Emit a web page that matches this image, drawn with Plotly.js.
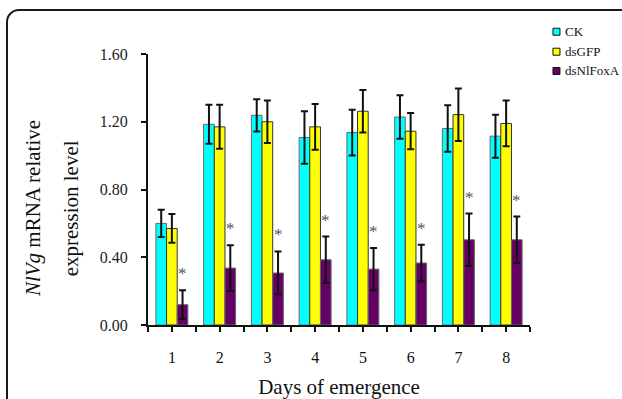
<!DOCTYPE html>
<html>
<head>
<meta charset="utf-8">
<script src="https://cdn.plot.ly/plotly-3.0.1.min.js"></script>
<style>
html,body{margin:0;padding:0;width:622px;height:399px;overflow:hidden;background:#fff;}
#frame{position:absolute;left:6px;top:9px;width:700px;height:500px;border:2px solid #1a1a1a;border-radius:13px;box-sizing:border-box;}
#chart{position:absolute;left:0;top:0;width:622px;height:399px;}
</style>
</head>
<body>
<div id="frame"></div>
<div id="chart"></div>
<script>
// ---- data ----
const days = [1, 2, 3, 4, 5, 6, 7, 8];
const dayLabels = ['1', '2', '3', '4', '5', '6', '7', '8'];
const seriesNames = ['CK', 'dsGFP', 'dsNlFoxA'];
const ckValues = [0.60, 1.185, 1.238, 1.107, 1.136, 1.228, 1.16, 1.115];
const ckErrors = [0.08, 0.115, 0.095, 0.155, 0.135, 0.128, 0.137, 0.127];
const gfpValues = [0.57, 1.17, 1.20, 1.17, 1.262, 1.144, 1.242, 1.19];
const gfpErrors = [0.085, 0.13, 0.125, 0.135, 0.125, 0.107, 0.155, 0.135];
const foxValues = [0.12, 0.336, 0.307, 0.385, 0.33, 0.366, 0.503, 0.503];
const foxErrors = [0.085, 0.135, 0.127, 0.137, 0.125, 0.108, 0.155, 0.137];
const significance = ['*', '*', '*', '*', '*', '*', '*', '*'];
const yTicks = [0, 0.4, 0.8, 1.2, 1.6];

// ---- layout constants ----
const W = 622, H = 399;
const M = {l: 147.5, r: 92, t: 54, b: 73.5};
const PW = W - M.l - M.r, PH = H - M.t - M.b;
const px = x => (x - M.l) / PW;
const py = y => (H - M.b - y) / PH;
const BARGAP = 0.33;
const FONT = 'Liberation Serif, Times New Roman, serif';
const colors = ['#00FFFF', '#FFFF00', '#660066'];
const outlines = ['#6a6a6a', '#333333', '#6a6a6a'];

const vals = [ckValues, gfpValues, foxValues];
const errs = [ckErrors, gfpErrors, foxErrors];

const traces = vals.map((v, i) => ({
  type: 'bar',
  name: seriesNames[i],
  x: days,
  y: v,
  marker: {color: colors[i], line: {color: outlines[i], width: 1}},
  error_y: {type: 'data', array: errs[i], visible: true, color: '#111', thickness: 2, width: 3.5},
  showlegend: false,
  hoverinfo: 'skip'
}));

// x ticks at centers and boundaries
const tickVals = [], tickText = [];
for (let i = 0; i < days.length; i++) {
  tickVals.push(days[i] - 0.5); tickText.push('');
  tickVals.push(days[i]); tickText.push(dayLabels[i]);
}
tickVals.push(days[days.length - 1] + 0.5); tickText.push('');

const barOffset = (1 - BARGAP) / 3;
const annotations = [];
days.forEach((d, i) => {
  annotations.push({
    x: d + barOffset, y: foxValues[i] + foxErrors[i], xref: 'x', yref: 'y',
    text: significance[i], showarrow: false, xanchor: 'center', yanchor: 'bottom',
    yshift: 5, font: {family: FONT, size: 17, color: '#555'}
  });
});

// y-axis title (two lines)
annotations.push({
  xref: 'paper', yref: 'paper', x: px(31.7), y: py(209), textangle: -90,
  text: '<i>NlVg</i> mRNA relative', showarrow: false, xanchor: 'center', yanchor: 'middle',
  font: {family: FONT, size: 21, color: '#111'}
});
annotations.push({
  xref: 'paper', yref: 'paper', x: px(70), y: py(209), textangle: -90,
  text: 'expression level', showarrow: false, xanchor: 'center', yanchor: 'middle',
  font: {family: FONT, size: 21, color: '#111'}
});

// manual legend
const shapes = [];
const legendY = [31.7, 51.7, 71];
seriesNames.forEach((n, i) => {
  shapes.push({
    type: 'rect', xref: 'paper', yref: 'paper',
    x0: px(553), x1: px(560), y0: py(legendY[i] + 3.5), y1: py(legendY[i] - 3.5),
    fillcolor: colors[i], line: {color: '#111', width: 1}
  });
  annotations.push({
    xref: 'paper', yref: 'paper', x: px(563), y: py(legendY[i]), text: n,
    showarrow: false, xanchor: 'left', yanchor: 'middle',
    font: {family: FONT, size: 13, color: '#111'}
  });
});

const layout = {
  width: W, height: H,
  margin: M,
  paper_bgcolor: 'rgba(0,0,0,0)', plot_bgcolor: 'rgba(0,0,0,0)',
  barmode: 'group', bargap: BARGAP, bargroupgap: 0,
  font: {family: FONT, color: '#111'},
  xaxis: {
    range: [0.5, 8.5], tickmode: 'array', tickvals: tickVals, ticktext: tickText,
    ticks: 'outside', ticklen: 5, tickwidth: 2, tickcolor: '#111',
    showline: true, linecolor: '#111', linewidth: 2, showgrid: false, zeroline: false,
    tickfont: {family: FONT, size: 16, color: '#111'}, ticklabelstandoff: 12,
    title: {text: 'Days of emergence', font: {family: FONT, size: 21, color: '#111'}, standoff: 17}
  },
  yaxis: {
    range: [0, 1.6], tickmode: 'array', tickvals: yTicks, tickformat: '.2f',
    ticks: 'outside', ticklen: 5, tickwidth: 2, tickcolor: '#111',
    showline: true, linecolor: '#111', linewidth: 2, showgrid: false, zeroline: false,
    tickfont: {family: FONT, size: 16, color: '#222'}, ticklabelstandoff: 10
  },
  annotations: annotations,
  shapes: shapes
};

Plotly.newPlot('chart', traces, layout, {displayModeBar: false, staticPlot: true});
</script>
</body>
</html>
